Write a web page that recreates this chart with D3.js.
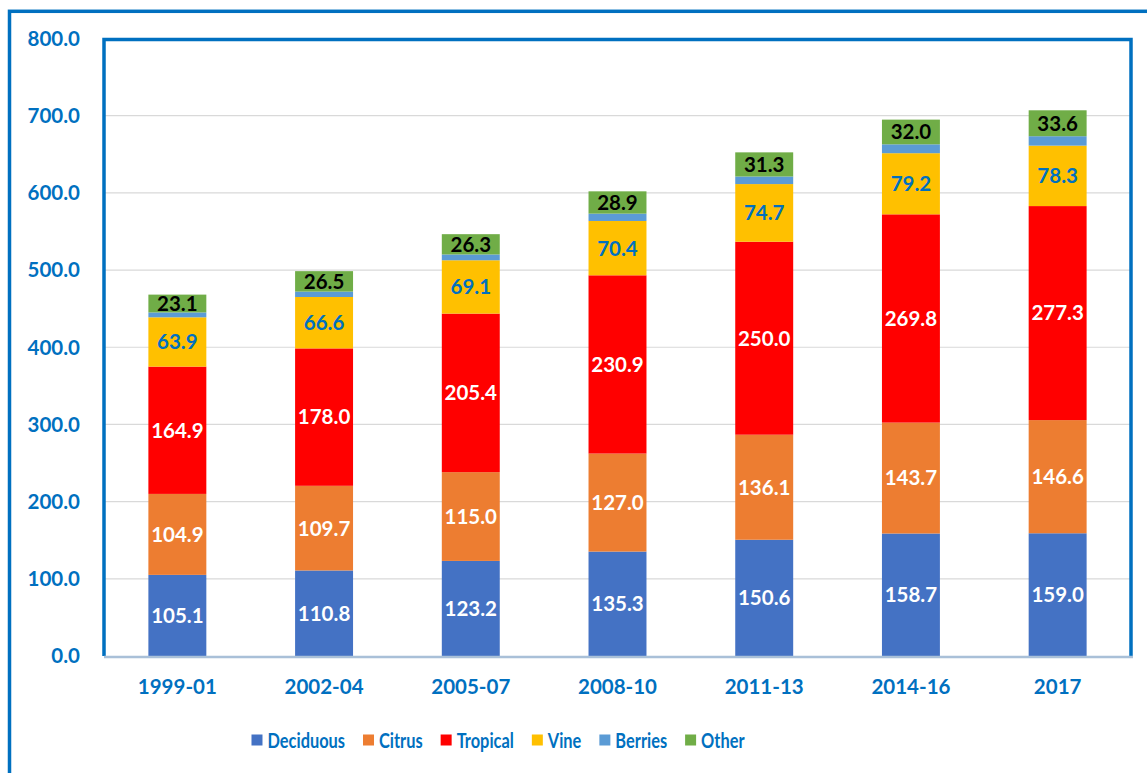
<!DOCTYPE html>
<html>
<head>
<meta charset="utf-8">
<script src="https://cdn.jsdelivr.net/npm/d3@7"></script>
<style>
  html, body { margin: 0; padding: 0; background: #fff; }
  svg { display: block; font-family: Lato, "Open Sans", sans-serif; font-weight: 700; }
</style>
</head>
<body>
<svg width="1147" height="773"></svg>
<script>
// dados
const periods = ["1999-01", "2002-04", "2005-07", "2008-10", "2011-13", "2014-16", "2017"];
const series = ["Deciduous", "Citrus", "Tropical", "Vine", "Berries", "Other"];
const deciduous = [105.1, 110.8, 123.2, 135.3, 150.6, 158.7, 159.0];
const citrus = [104.9, 109.7, 115.0, 127.0, 136.1, 143.7, 146.6];
const tropical = [164.9, 178.0, 205.4, 230.9, 250.0, 269.8, 277.3];
const vine = [63.9, 66.6, 69.1, 70.4, 74.7, 79.2, 78.3];
const berries = [6.3, 7.0, 7.5, 9.5, 9.8, 11.5, 12.2]; // sem rotulo, estimado pela altura
const other = [23.1, 26.5, 26.3, 28.9, 31.3, 32.0, 33.6];
const yTicks = [0, 100, 200, 300, 400, 500, 600, 700, 800];

const vis = {

    params : {
        margin : { left : 104, right : 1131, top : 38.5, bottom : 656 },
        blue : "#0070C0",
        colors : ["#4472C4", "#ED7D31", "#FF0000", "#FFC000", "#5B9BD5", "#70AD47"],
        label_colors : ["#fff", "#fff", "#fff", "#0070C0", null, "#000"],
        font_size : 20.5,
        legend_squeeze : 0.78 // letras do Calibri sao mais estreitas
    },

    sels : { svg : null },

    scales : { x : null, y : null },

    data : null,

    utils : {

        build_data : function() {
            const values = [deciduous, citrus, tropical, vine, berries, other];
            const rows = periods.map((p, i) => {
                const row = { period : p };
                series.forEach((s, j) => row[s] = values[j][i]);
                return row;
            });
            vis.data = d3.stack().keys(series)(rows);
        },

        build_scales : function() {
            const m = vis.params.margin;
            vis.scales.x = d3.scaleBand()
              .domain(periods)
              .range([m.left, m.right])
              .paddingInner(0.605)
              .paddingOuter(0.3025);
            vis.scales.y = d3.scaleLinear()
              .domain([0, 800])
              .range([m.bottom, m.top]);
        }

    },

    render : {

        frames : function() {
            const m = vis.params.margin;
            const svg = vis.sels.svg;

            // moldura externa (sai da imagem pela direita e por baixo)
            svg.append("rect")
              .attr("x", 9.5).attr("y", 11.3)
              .attr("width", 1200).attr("height", 800)
              .attr("fill", "none")
              .attr("stroke", vis.params.blue)
              .attr("stroke-width", 3.5);

            // grade
            svg.append("g")
              .selectAll("line")
              .data(yTicks.filter(d => d > 0))
              .join("line")
              .attr("x1", m.left).attr("x2", m.right)
              .attr("y1", d => vis.scales.y(d)).attr("y2", d => vis.scales.y(d))
              .attr("stroke", "#D9D9D9")
              .attr("stroke-width", 1.2);
        },

        bars : function() {
            const x = vis.scales.x, y = vis.scales.y;

            const groups = vis.sels.svg.append("g")
              .selectAll("g.serie")
              .data(vis.data)
              .join("g")
              .classed("serie", true)
              .attr("fill", (d, i) => vis.params.colors[i]);

            groups.selectAll("rect")
              .data(d => d)
              .join("rect")
              .attr("x", d => x(d.data.period))
              .attr("width", x.bandwidth())
              .attr("y", d => y(d[1]))
              .attr("height", d => y(d[0]) - y(d[1]));

            groups.filter((d, i) => vis.params.label_colors[i] !== null)
              .selectAll("text")
              .data(d => d.map(v => ({ v : v, key : d.key, idx : d.index })))
              .join("text")
              .attr("x", d => x(d.v.data.period) + x.bandwidth() / 2)
              .attr("y", d => (y(d.v[0]) + y(d.v[1])) / 2)
              .attr("dy", "0.36em")
              .attr("text-anchor", "middle")
              .attr("font-size", vis.params.font_size)
              .attr("fill", d => vis.params.label_colors[d.idx])
              .text(d => d.v.data[d.key].toFixed(1));
        },

        axes : function() {
            const m = vis.params.margin;
            const svg = vis.sels.svg;
            const blue = vis.params.blue;

            // eixo y (rotulos)
            svg.append("g")
              .selectAll("text")
              .data(yTicks)
              .join("text")
              .attr("x", 80)
              .attr("y", d => vis.scales.y(d))
              .attr("dy", "0.36em")
              .attr("text-anchor", "end")
              .attr("font-size", vis.params.font_size)
              .attr("fill", blue)
              .text(d => d.toFixed(1));

            // eixo x
            svg.append("g")
              .selectAll("text")
              .data(periods)
              .join("text")
              .attr("x", d => vis.scales.x(d) + vis.scales.x.bandwidth() / 2)
              .attr("y", 687)
              .attr("dy", "0.36em")
              .attr("text-anchor", "middle")
              .attr("font-size", vis.params.font_size)
              .attr("fill", blue)
              .text(d => d);

            // moldura da area de plotagem: esquerda, topo, direita
            svg.append("path")
              .attr("d", `M${m.left},${m.bottom} V${m.top + 1} H${m.right} V${m.bottom}`)
              .attr("fill", "none")
              .attr("stroke", blue)
              .attr("stroke-width", 3.5);

            // linha base
            svg.append("line")
              .attr("x1", m.left).attr("x2", m.right + 2)
              .attr("y1", m.bottom + 1).attr("y2", m.bottom + 1)
              .attr("stroke", "#A9C0D8")
              .attr("stroke-width", 2.5);
        },

        legend : function() {
            const svg = vis.sels.svg;
            const cy = 740, box = 11, gap = 5, spacing = 18;
            const sq = vis.params.legend_squeeze;

            const leg = svg.append("g");
            const items = leg.selectAll("g")
              .data(series)
              .join("g");

            items.append("rect")
              .attr("width", box).attr("height", box)
              .attr("y", cy - box / 2)
              .attr("fill", (d, i) => vis.params.colors[i]);

            items.append("text")
              .attr("transform", `translate(${box + gap},${cy}) scale(${sq},1)`)
              .attr("dy", "0.36em")
              .attr("font-size", 21)
              .attr("fill", vis.params.blue)
              .text(d => d);

            // posiciona lado a lado medindo os textos
            let pos = 0;
            items.each(function() {
                const w = box + gap + sq * d3.select(this).select("text").node().getComputedTextLength();
                d3.select(this).attr("transform", `translate(${pos},0)`);
                pos += w + spacing;
            });
            const total = pos - spacing;
            leg.attr("transform", `translate(${498 - total / 2},0)`);
        }

    },

    control : {
        init : function() {
            vis.sels.svg = d3.select("svg");
            vis.utils.build_data();
            vis.utils.build_scales();
            vis.render.frames();
            vis.render.bars();
            vis.render.axes();
            vis.render.legend();
        }
    }

};

vis.control.init();
</script>
</body>
</html>
